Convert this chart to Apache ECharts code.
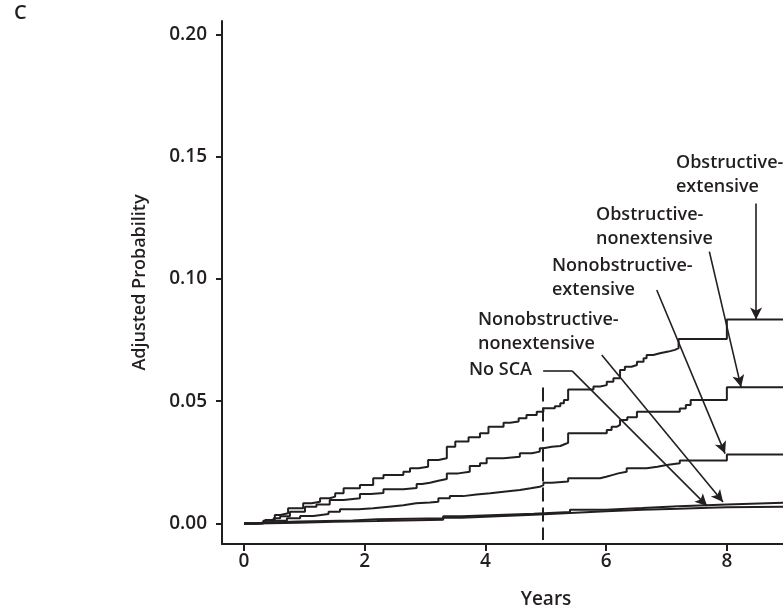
<!DOCTYPE html>
<html>
<head>
<meta charset="utf-8">
<title>Adjusted Probability</title>
<script src="https://cdn.jsdelivr.net/npm/echarts@6/dist/echarts.min.js"></script>
<style>
  html, body { margin: 0; padding: 0; background: #fff; }
  #chart { width: 783px; height: 614px; }
</style>
</head>
<body>
<div id="chart"></div>
<script>
// step points: [year, probability from that year on]
const obstructiveExtensive = [
  [0, 0], [0.2, 0.0004], [0.35, 0.0014], [0.51, 0.0035], [0.6, 0.0042], [0.73, 0.0062],
  [0.98, 0.0083], [1.12, 0.0089], [1.26, 0.0103], [1.42, 0.011], [1.51, 0.0124], [1.65, 0.0144],
  [1.92, 0.0157], [2.14, 0.0185], [2.31, 0.0198], [2.64, 0.0212], [2.75, 0.0226], [2.89, 0.0232],
  [3.05, 0.026], [3.22, 0.0267], [3.36, 0.0314], [3.5, 0.0335], [3.72, 0.0353], [3.91, 0.0369],
  [4.05, 0.0396], [4.3, 0.0412], [4.41, 0.0417], [4.55, 0.043], [4.68, 0.0444], [4.85, 0.0457],
  [4.96, 0.0471], [5.15, 0.048], [5.24, 0.0492], [5.3, 0.0505], [5.37, 0.0548], [5.79, 0.056],
  [5.9, 0.0566], [6.01, 0.058], [6.12, 0.0594], [6.23, 0.0628], [6.31, 0.0641], [6.42, 0.0648],
  [6.51, 0.0662], [6.62, 0.0676], [6.67, 0.0689], [6.78, 0.0696], [6.89, 0.0703], [7.03, 0.071],
  [7.14, 0.0717], [7.2, 0.0755], [8.0, 0.0834], [9, 0.0834]
]
const obstructiveNonextensive = [
  [0, 0], [0.25, 0.0006], [0.49, 0.0021], [0.6, 0.003], [0.76, 0.0048], [1.01, 0.0069],
  [1.2, 0.0078], [1.42, 0.0096], [1.65, 0.0103], [1.92, 0.0121], [2.1, 0.0125], [2.31, 0.014],
  [2.64, 0.0145], [2.86, 0.0162], [2.95, 0.0167], [3.08, 0.0175], [3.22, 0.0182], [3.36, 0.0205],
  [3.55, 0.0212], [3.74, 0.0235], [3.91, 0.0246], [4.02, 0.0267], [4.3, 0.0273], [4.57, 0.0287],
  [4.77, 0.0294], [4.9, 0.0308], [4.96, 0.0314], [5.1, 0.0317], [5.24, 0.0325], [5.32, 0.033],
  [5.37, 0.0369], [6.01, 0.0382], [6.09, 0.0396], [6.18, 0.0403], [6.23, 0.0423], [6.35, 0.0435],
  [6.51, 0.0457], [7.22, 0.047], [7.32, 0.0485], [7.4, 0.0505], [8.0, 0.0557], [9, 0.0557]
]
const nonobstructiveExtensive = [
  [0, 0], [0.32, 0.0011], [0.71, 0.0021], [0.93, 0.0031], [1.15, 0.0039], [1.4, 0.0048],
  [1.59, 0.0058], [1.9, 0.0062], [2.14, 0.0069], [2.4, 0.0075], [2.64, 0.0083], [2.85, 0.0086],
  [3.08, 0.0089], [3.22, 0.0103], [3.41, 0.0112], [3.63, 0.0119], [3.85, 0.0124], [4.08, 0.013],
  [4.3, 0.0137], [4.57, 0.0144], [4.75, 0.015], [4.9, 0.0157], [4.96, 0.0167], [5.1, 0.0172],
  [5.37, 0.0185], [5.9, 0.0191], [6.0, 0.0198], [6.1, 0.0205], [6.2, 0.0212], [6.34, 0.0226],
  [6.67, 0.0232], [6.85, 0.0239], [7.0, 0.0246], [7.22, 0.0258], [8.0, 0.0282], [9, 0.0282]
]
const nonobstructiveNonextensive = [
  [0, 0], [0.15, 0.0004], [0.4, 0.0008], [0.9, 0.0012], [1.8, 0.0017], [2.2, 0.0021],
  [3.3, 0.003], [3.6, 0.0035], [4.2, 0.004], [4.8, 0.0047], [5.4, 0.0056], [6.0, 0.0063],
  [6.6, 0.0071], [7.2, 0.0078], [8.0, 0.0085], [9, 0.0085]
]
const noSCA = [
  [0, 0], [0.2, 0.0003], [0.9, 0.0007], [1.5, 0.001], [2.2, 0.0015], [3.3, 0.0024],
  [3.6, 0.003], [4.2, 0.0036], [4.8, 0.0043], [5.4, 0.005], [6.0, 0.0056], [6.6, 0.006],
  [7.2, 0.0064], [7.7, 0.0066], [8.0, 0.0069], [9, 0.0069]
]
const xTicks = [0, 2, 4, 6, 8]
const yTicks = [0, 0.05, 0.1, 0.15, 0.2]
const landmarkYear = 4.95

const ink = '#231f20'
const font = '"Open Sans", "Noto Sans", sans-serif'

// leader lines [from, to] in data units
const pointers = [
  [[8.484, 0.1309], [8.484, 0.0834]],
  [[7.71, 0.1112], [8.235, 0.0558]],
  [[6.838, 0.0955], [7.97, 0.0286]],
  [[5.927, 0.0689], [7.937, 0.0088]]
]
const noScaLeader = [[4.956, 0.0624], [5.435, 0.0624], [7.672, 0.0072]]

const markData = pointers.map(([a, b]) => [
  { coord: a, symbol: 'none' },
  { coord: b, symbol: 'arrow' }
])
markData.push([
  { coord: noScaLeader[0], symbol: 'none' },
  { coord: noScaLeader[1], symbol: 'none' }
])
markData.push([
  { coord: noScaLeader[1], symbol: 'none' },
  { coord: noScaLeader[2], symbol: 'arrow' }
])
markData.push([
  { coord: [landmarkYear, 0.0556], symbol: 'none', lineStyle: { type: [14, 6], width: 2 } },
  { coord: [landmarkYear, -0.0067], symbol: 'none' }
])

function stepSeries(name, data, extra) {
  return Object.assign({
    name,
    type: 'line',
    step: 'end',
    data,
    showSymbol: false,
    symbol: 'none',
    lineStyle: { color: ink, width: 2 },
    animation: false,
    silent: true
  }, extra || {})
}

const labels = [
  { text: 'Obstructive-\nextensive', x: 676, y: 151 },
  { text: 'Obstructive-\nnonextensive', x: 596, y: 203 },
  { text: 'Nonobstructive-\nextensive', x: 552, y: 254 },
  { text: 'Nonobstructive-\nnonextensive', x: 478, y: 308 },
  { text: 'No SCA', x: 469, y: 358 }
]

const chart = echarts.init(document.getElementById('chart'))
chart.setOption({
  animation: false,
  grid: { left: 222, right: 0, top: 21, bottom: 70 },
  xAxis: {
    type: 'value',
    min: -0.365,
    max: 8.93,
    splitLine: { show: false },
    axisLine: { onZero: false, lineStyle: { color: ink, width: 2 } },
    axisTick: { customValues: xTicks, length: 7, lineStyle: { color: ink, width: 2 } },
    axisLabel: {
      customValues: xTicks,
      margin: 8,
      color: ink,
      fontFamily: font,
      fontWeight: 600,
      fontSize: 19
    }
  },
  yAxis: {
    type: 'value',
    min: -0.00838,
    max: 0.2055,
    name: 'Adjusted Probability',
    nameLocation: 'middle',
    nameGap: 73,
    nameTextStyle: { color: ink, fontFamily: font, fontWeight: 600, fontSize: 18 },
    splitLine: { show: false },
    axisLine: { onZero: false, lineStyle: { color: ink, width: 2 } },
    axisTick: { customValues: yTicks, length: 6, lineStyle: { color: ink, width: 2 } },
    axisLabel: {
      customValues: yTicks,
      margin: 15,
      color: ink,
      fontFamily: font,
      fontWeight: 600,
      fontSize: 19,
      formatter: (v) => v.toFixed(2)
    }
  },
  graphic: [
    {
      type: 'text', x: 14, y: 3,
      style: { text: 'C', fill: ink, font: '600 20px ' + font }
    },
    {
      type: 'text', x: 546, y: 600,
      style: { text: 'Years', fill: ink, font: '600 19px ' + font, align: 'center', verticalAlign: 'middle' }
    },
    ...labels.map((l) => ({
      type: 'text', x: l.x, y: l.y,
      style: { text: l.text, fill: ink, font: '600 18px ' + font, lineHeight: 24, verticalAlign: 'top' }
    }))
  ],
  series: [
    stepSeries('No SCA', noSCA),
    stepSeries('Nonobstructive-nonextensive', nonobstructiveNonextensive),
    stepSeries('Nonobstructive-extensive', nonobstructiveExtensive),
    stepSeries('Obstructive-nonextensive', obstructiveNonextensive),
    stepSeries('Obstructive-extensive', obstructiveExtensive, {
      markLine: {
        silent: true,
        animation: false,
        symbolSize: [9, 12],
        label: { show: false },
        lineStyle: { color: ink, width: 1.6, type: 'solid' },
        emphasis: { disabled: true },
        data: markData
      }
    })
  ]
})
</script>
</body>
</html>
